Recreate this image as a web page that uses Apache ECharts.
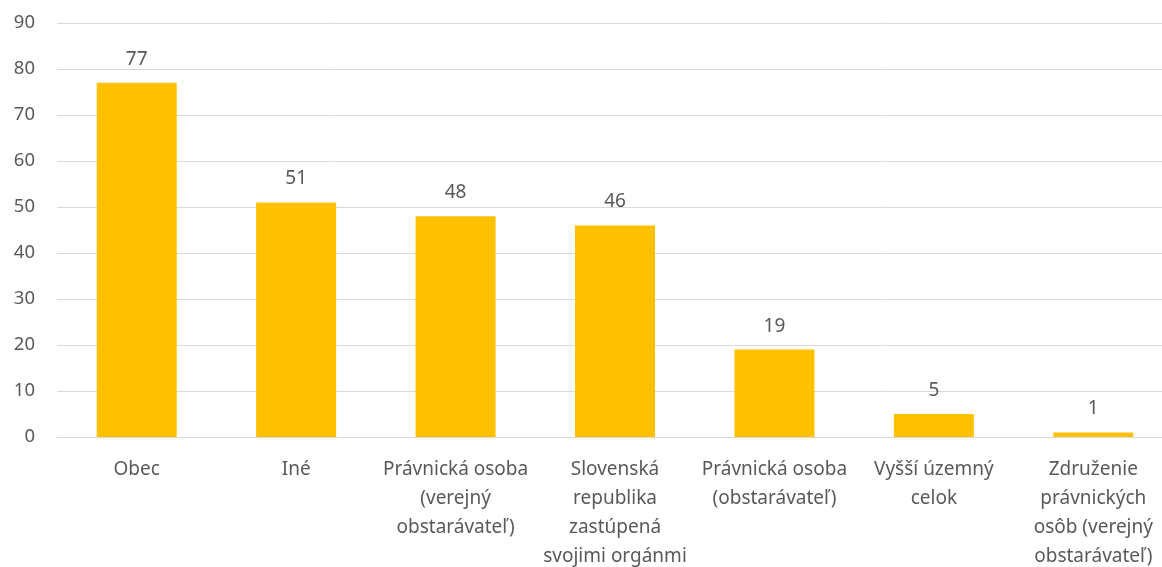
<!DOCTYPE html>
<html>
<head>
<meta charset="utf-8">
<script src="https://cdn.jsdelivr.net/npm/echarts@6/dist/echarts.min.js"></script>
<style>
  html, body { margin: 0; padding: 0; background: #fff; }
  #chart { width: 1162px; height: 567px; }
</style>
</head>
<body>
<div id="chart"></div>
<script>
  // kategórie a hodnoty
  const categories = [
    'Obec',
    'Iné',
    'Právnická osoba\n(verejný\nobstarávateľ)',
    'Slovenská\nrepublika\nzastúpená\nsvojimi orgánmi',
    'Právnická osoba\n(obstarávateľ)',
    'Vyšší územný\ncelok',
    'Združenie\nprávnických\nosôb (verejný\nobstarávateľ)'
  ];
  const values = [77, 51, 48, 46, 19, 5, 1];
  const yTicks = [0, 10, 20, 30, 40, 50, 60, 70, 80, 90];

  const font = '"Noto Sans", sans-serif';
  const textColor = '#595959';

  let myChart = echarts.init(document.getElementById('chart'));
  myChart.setOption({
    animation: false,
    grid: { left: 57, right: -11, top: 23, bottom: 130, containLabel: false, outerBoundsMode: 'none' },
    xAxis: {
      type: 'category',
      data: categories,
      axisLine: { show: true, lineStyle: { color: '#d9d9d9', width: 1 } },
      axisTick: { show: false },
      axisLabel: {
        interval: 0,
        margin: 18,
        color: textColor,
        fontFamily: font,
        fontSize: 19,
        lineHeight: 29
      }
    },
    yAxis: {
      type: 'value',
      min: yTicks[0],
      max: yTicks[yTicks.length - 1],
      interval: 10,
      axisLine: { show: false },
      axisTick: { show: false },
      axisLabel: { color: textColor, fontFamily: font, fontSize: 18.5, margin: 22 },
      splitLine: { lineStyle: { color: '#d9d9d9', width: 1 } }
    },
    series: [{
      type: 'bar',
      data: values,
      barWidth: 80,
      itemStyle: { color: '#ffc000' },
      label: {
        show: true,
        position: 'top',
        distance: 14,
        color: textColor,
        fontFamily: font,
        fontSize: 19
      }
    }]
  });
</script>
</body>
</html>
